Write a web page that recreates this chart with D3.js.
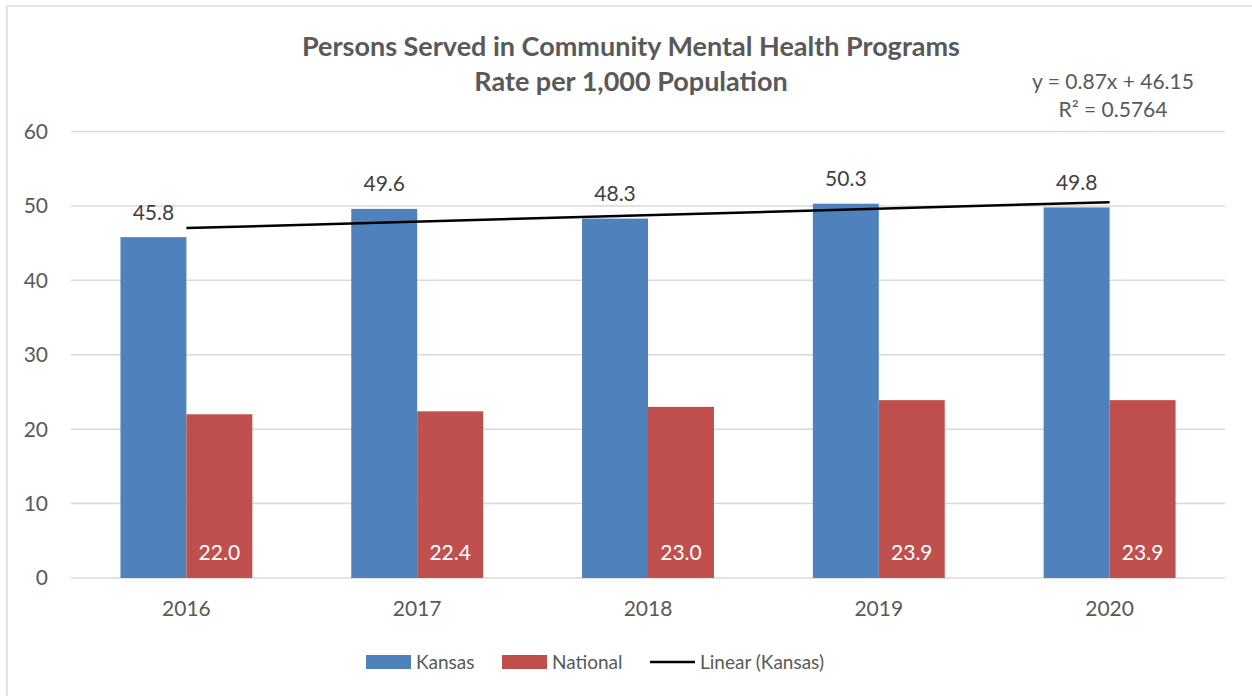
<!DOCTYPE html>
<html>
<head>
<meta charset="utf-8">
<script src="https://cdn.jsdelivr.net/npm/d3@7"></script>
<style>
  body { margin: 0; background: #fff; }
  text { font-family: Lato, "Open Sans", sans-serif; }
</style>
</head>
<body>
<div id="viz"></div>
<script>
var years = ['2016', '2017', '2018', '2019', '2020'];
var kansas = [45.8, 49.6, 48.3, 50.3, 49.8];
var national = [22.0, 22.4, 23.0, 23.9, 23.9];
var yTicks = [0, 10, 20, 30, 40, 50, 60];
var seriesNames = ['Kansas', 'National', 'Linear (Kansas)'];
var titleLines = ['Persons Served in Community Mental Health Programs', 'Rate per 1,000 Population'];

var width = 1252, height = 696;
var plotLeft = 71, plotRight = 1225, plotTop = 131.5, plotBottom = 578;
var blue = '#4f81bd', red = '#c0504d';

// least squares trend for kansas, x = 1..n
var n = kansas.length;
var xs = kansas.map(function(d, i){ return i + 1; });
var mx = d3.mean(xs), my = d3.mean(kansas);
var slope = d3.sum(xs, function(x, i){ return (x - mx) * (kansas[i] - my); }) /
            d3.sum(xs, function(x){ return (x - mx) * (x - mx); });
var intercept = my - slope * mx;
var ssTot = d3.sum(kansas, function(d){ return (d - my) * (d - my); });
var ssRes = d3.sum(kansas, function(d, i){ var p = intercept + slope * xs[i]; return (d - p) * (d - p); });
var r2 = 1 - ssRes / ssTot;

var svg = d3.select('#viz').append('svg')
    .attr('width', width)
    .attr('height', height);

svg.append('rect')
    .attr('x', 7).attr('y', 6)
    .attr('width', 1300).attr('height', 760)
    .attr('fill', '#fff')
    .attr('stroke', '#d9d9d9')
    .attr('stroke-width', 1.5);

var yScale = d3.scaleLinear().domain([0, 60]).range([plotBottom, plotTop]);

var xScale = d3.scaleBand()
    .domain(years)
    .range([plotLeft, plotRight]);

var barW = xScale.bandwidth() / 3.5;

// gridlines
svg.append('g').selectAll('line').data(yTicks)
    .enter().append('line')
    .attr('x1', plotLeft).attr('x2', plotRight)
    .attr('y1', function(d){ return yScale(d); })
    .attr('y2', function(d){ return yScale(d); })
    .attr('stroke', '#d9d9d9')
    .attr('stroke-width', 1.5);

// y tick labels
svg.append('g').selectAll('text').data(yTicks)
    .enter().append('text')
    .attr('x', 48)
    .attr('y', function(d){ return yScale(d); })
    .attr('dy', '0.35em')
    .attr('text-anchor', 'end')
    .attr('font-size', 21)
    .attr('fill', '#595959')
    .text(function(d){ return d; });

function center(i){ return xScale(years[i]) + xScale.bandwidth() / 2; }

// x labels
svg.append('g').selectAll('text').data(years)
    .enter().append('text')
    .attr('x', function(d, i){ return center(i); })
    .attr('y', 609)
    .attr('dy', '0.35em')
    .attr('text-anchor', 'middle')
    .attr('font-size', 21)
    .attr('fill', '#595959')
    .text(function(d){ return d; });

// bars
svg.append('g').selectAll('rect').data(kansas)
    .enter().append('rect')
    .attr('x', function(d, i){ return center(i) - barW; })
    .attr('y', function(d){ return yScale(d); })
    .attr('width', barW)
    .attr('height', function(d){ return plotBottom - yScale(d); })
    .attr('fill', blue);

svg.append('g').selectAll('rect').data(national)
    .enter().append('rect')
    .attr('x', function(d, i){ return center(i); })
    .attr('y', function(d){ return yScale(d); })
    .attr('width', barW)
    .attr('height', function(d){ return plotBottom - yScale(d); })
    .attr('fill', red);

// data labels
svg.append('g').selectAll('text').data(kansas)
    .enter().append('text')
    .attr('x', function(d, i){ return center(i) - barW / 2; })
    .attr('y', function(d){ return yScale(d) - 25; })
    .attr('dy', '0.35em')
    .attr('text-anchor', 'middle')
    .attr('font-size', 21)
    .attr('fill', '#404040')
    .text(function(d){ return d.toFixed(1); });

svg.append('g').selectAll('text').data(national)
    .enter().append('text')
    .attr('x', function(d, i){ return center(i) + barW / 2; })
    .attr('y', plotBottom - 25)
    .attr('dy', '0.35em')
    .attr('text-anchor', 'middle')
    .attr('font-size', 21)
    .attr('fill', '#fff')
    .text(function(d){ return d.toFixed(1); });

// trendline
svg.append('line')
    .attr('x1', center(0)).attr('x2', center(n - 1))
    .attr('y1', yScale(intercept + slope * 1))
    .attr('y2', yScale(intercept + slope * n))
    .attr('stroke', '#000')
    .attr('stroke-width', 2.5);

svg.append('text')
    .attr('x', 1113).attr('y', 82)
    .attr('dy', '0.35em')
    .attr('text-anchor', 'middle')
    .attr('font-size', 21)
    .attr('fill', '#595959')
    .text('y = ' + slope.toFixed(2) + 'x + ' + intercept.toFixed(2));

svg.append('text')
    .attr('x', 1113).attr('y', 110)
    .attr('dy', '0.35em')
    .attr('text-anchor', 'middle')
    .attr('font-size', 21)
    .attr('fill', '#595959')
    .text('R² = ' + r2.toFixed(4));

// title
svg.append('g').selectAll('text').data(titleLines)
    .enter().append('text')
    .attr('x', 631)
    .attr('y', function(d, i){ return 47 + i * 35; })
    .attr('dy', '0.35em')
    .attr('text-anchor', 'middle')
    .attr('font-size', 27)
    .attr('font-weight', 'bold')
    .attr('fill', '#595959')
    .text(function(d){ return d; });

// legend
var legendX = [366, 502, 650];
var legend = svg.append('g').selectAll('g').data(seriesNames)
    .enter().append('g')
    .attr('transform', function(d, i){ return 'translate(' + legendX[i] + ',662)'; });

legend.each(function(d, i){
    var g = d3.select(this);
    if (i < 2) {
        g.append('rect').attr('x', 0).attr('y', -7).attr('width', 45).attr('height', 14)
            .attr('fill', i === 0 ? blue : red);
    } else {
        g.append('line').attr('x1', 0).attr('x2', 45).attr('y1', 0).attr('y2', 0)
            .attr('stroke', '#000').attr('stroke-width', 2.5);
    }
    g.append('text').attr('x', 50).attr('y', 0).attr('dy', '0.35em')
        .attr('font-size', 19).attr('fill', '#595959').text(d);
});
</script>
</body>
</html>
